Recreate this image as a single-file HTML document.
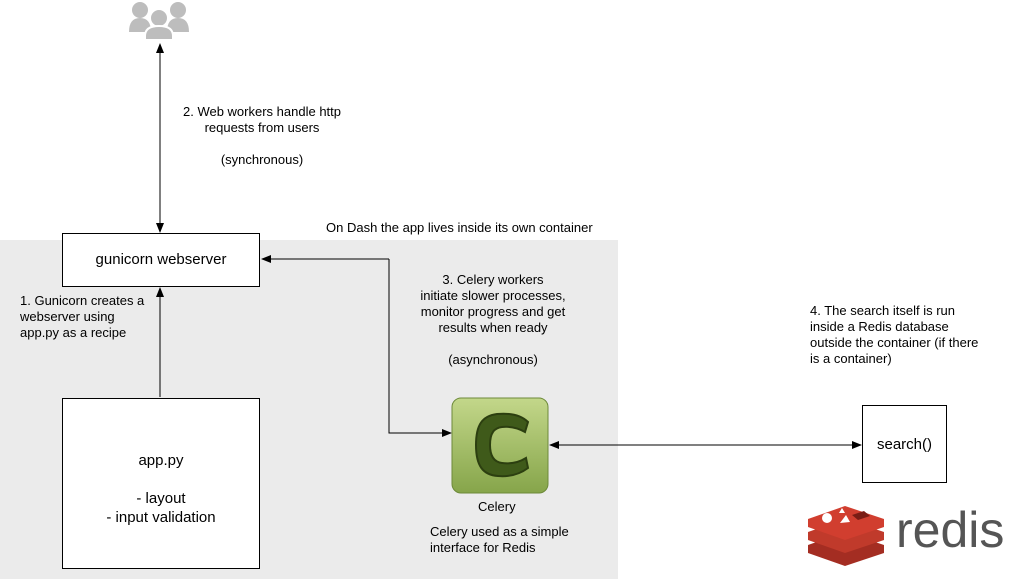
<!DOCTYPE html>
<html><head><style>
body{margin:0;width:1016px;height:579px;background:#fff;position:relative;overflow:hidden;font-family:"Liberation Sans",Helvetica,sans-serif;font-size:13px;color:#000}
.a{position:absolute}
.box{position:absolute;background:#fff;border:1px solid #000;box-sizing:border-box;text-align:center}
.t{position:absolute;line-height:16px}
</style></head><body>
<div class="a" style="left:0;top:240px;width:618px;height:339px;background:#ebebeb"></div>
<div class="t" style="left:326px;top:220px;">On Dash the app lives inside its own container</div>
<div class="box" style="left:62px;top:233px;width:198px;height:54px;line-height:52px;font-size:15px">gunicorn webserver</div>
<div class="box" style="left:62px;top:398px;width:198px;height:171px;font-size:15px;padding-top:52px;line-height:19px">app.py<br><br>- layout<br>- input validation</div>
<div class="box" style="left:862px;top:405px;width:85px;height:78px;line-height:78px;font-size:15px">search()</div>
<div class="t" style="left:177px;top:104px;text-align:center;width:170px">2. Web workers handle http<br>requests from users<br><br>(synchronous)</div>
<div class="t" style="left:20px;top:293px;">1. Gunicorn creates a<br>webserver using<br>app.py as a recipe</div>
<div class="t" style="left:398px;top:272px;text-align:center;width:190px">3. Celery workers<br>initiate slower processes,<br>monitor progress and get<br>results when ready<br><br>(asynchronous)</div>
<div class="t" style="left:810px;top:303px;">4. The search itself is run<br>inside a Redis database<br>outside the container (if there<br>is a container)</div>
<div class="t" style="left:478px;top:499px;">Celery</div>
<div class="t" style="left:430px;top:524px;">Celery used as a simple<br>interface for Redis</div>
<div class="t" style="left:896px;top:500px;font-size:50px;line-height:60px;color:#555;letter-spacing:0px">redis</div>
<svg class="a" style="left:0;top:0" width="1016" height="579">
<defs>
<marker id="m" markerWidth="10" markerHeight="8" refX="9" refY="4" orient="auto-start-reverse" markerUnits="userSpaceOnUse"><path d="M0,0L10,4L0,8z" fill="#000"/></marker>
<linearGradient id="g" x1="0" y1="0" x2="0" y2="1"><stop offset="0" stop-color="#c3d78a"/><stop offset="1" stop-color="#86a54a"/></linearGradient>
</defs>
<g fill="#bdbdbd">
<circle cx="140" cy="10" r="8"/><path d="M129,32 Q129,18 140,18 Q151,18 151,32z"/>
<circle cx="178" cy="10" r="8"/><path d="M167,32 Q167,18 178,18 Q189,18 189,32z"/>
<circle cx="159" cy="18" r="9" stroke="#fff" stroke-width="2"/><path d="M145,40 L145,36 Q145,26 159,26 Q173,26 173,36 L173,40z" stroke="#fff" stroke-width="2"/>
</g>
<line x1="160" y1="44" x2="160" y2="232" stroke="#000" marker-start="url(#m)" marker-end="url(#m)"/>
<line x1="160" y1="397" x2="160" y2="288" stroke="#000" marker-end="url(#m)"/>
<polyline points="389,259 389,433 451,433" fill="none" stroke="#000" marker-end="url(#m)"/>
<line x1="389" y1="259" x2="262" y2="259" stroke="#000" marker-end="url(#m)"/>
<line x1="550" y1="445" x2="861" y2="445" stroke="#000" marker-start="url(#m)" marker-end="url(#m)"/>
<rect x="452" y="398" width="96" height="95" rx="9" fill="url(#g)" stroke="#6d8a3a"/>
<path d="M528,422 C520,414 508,413 497,414 C482,416 476,425 476,445 C476,466 483,475 498,476 C510,477 520,474 528,468 L526,458 C518,463 510,464 502,463 C494,462 490,456 490,445 C490,433 494,428 502,427 C511,426 518,428 525,432 Z" fill="#3f5a1a" stroke="#2c3f10" stroke-width="2"/>
<g>
<path d="M808,545 L845,532 L884,545 L884,553 L845,566 L808,553z" fill="#a42d22"/>
<path d="M808,532 L845,519 L884,532 L884,540 L845,553 L808,540z" fill="#c03a2b"/>
<path d="M808,519 L845,506 L884,519 L884,527 L845,540 L808,527z" fill="#d13e2f"/>
<circle cx="827" cy="518" r="5" fill="#fff"/><path d="M840,523 L850,522 L846,515z" fill="#fff"/><path d="M842,508 L845,513 L839,513z" fill="#fff"/><path d="M852,515 L864,511 L870,516 L858,520z" fill="#7a1d15"/>
</g>
</svg>
</body></html>
